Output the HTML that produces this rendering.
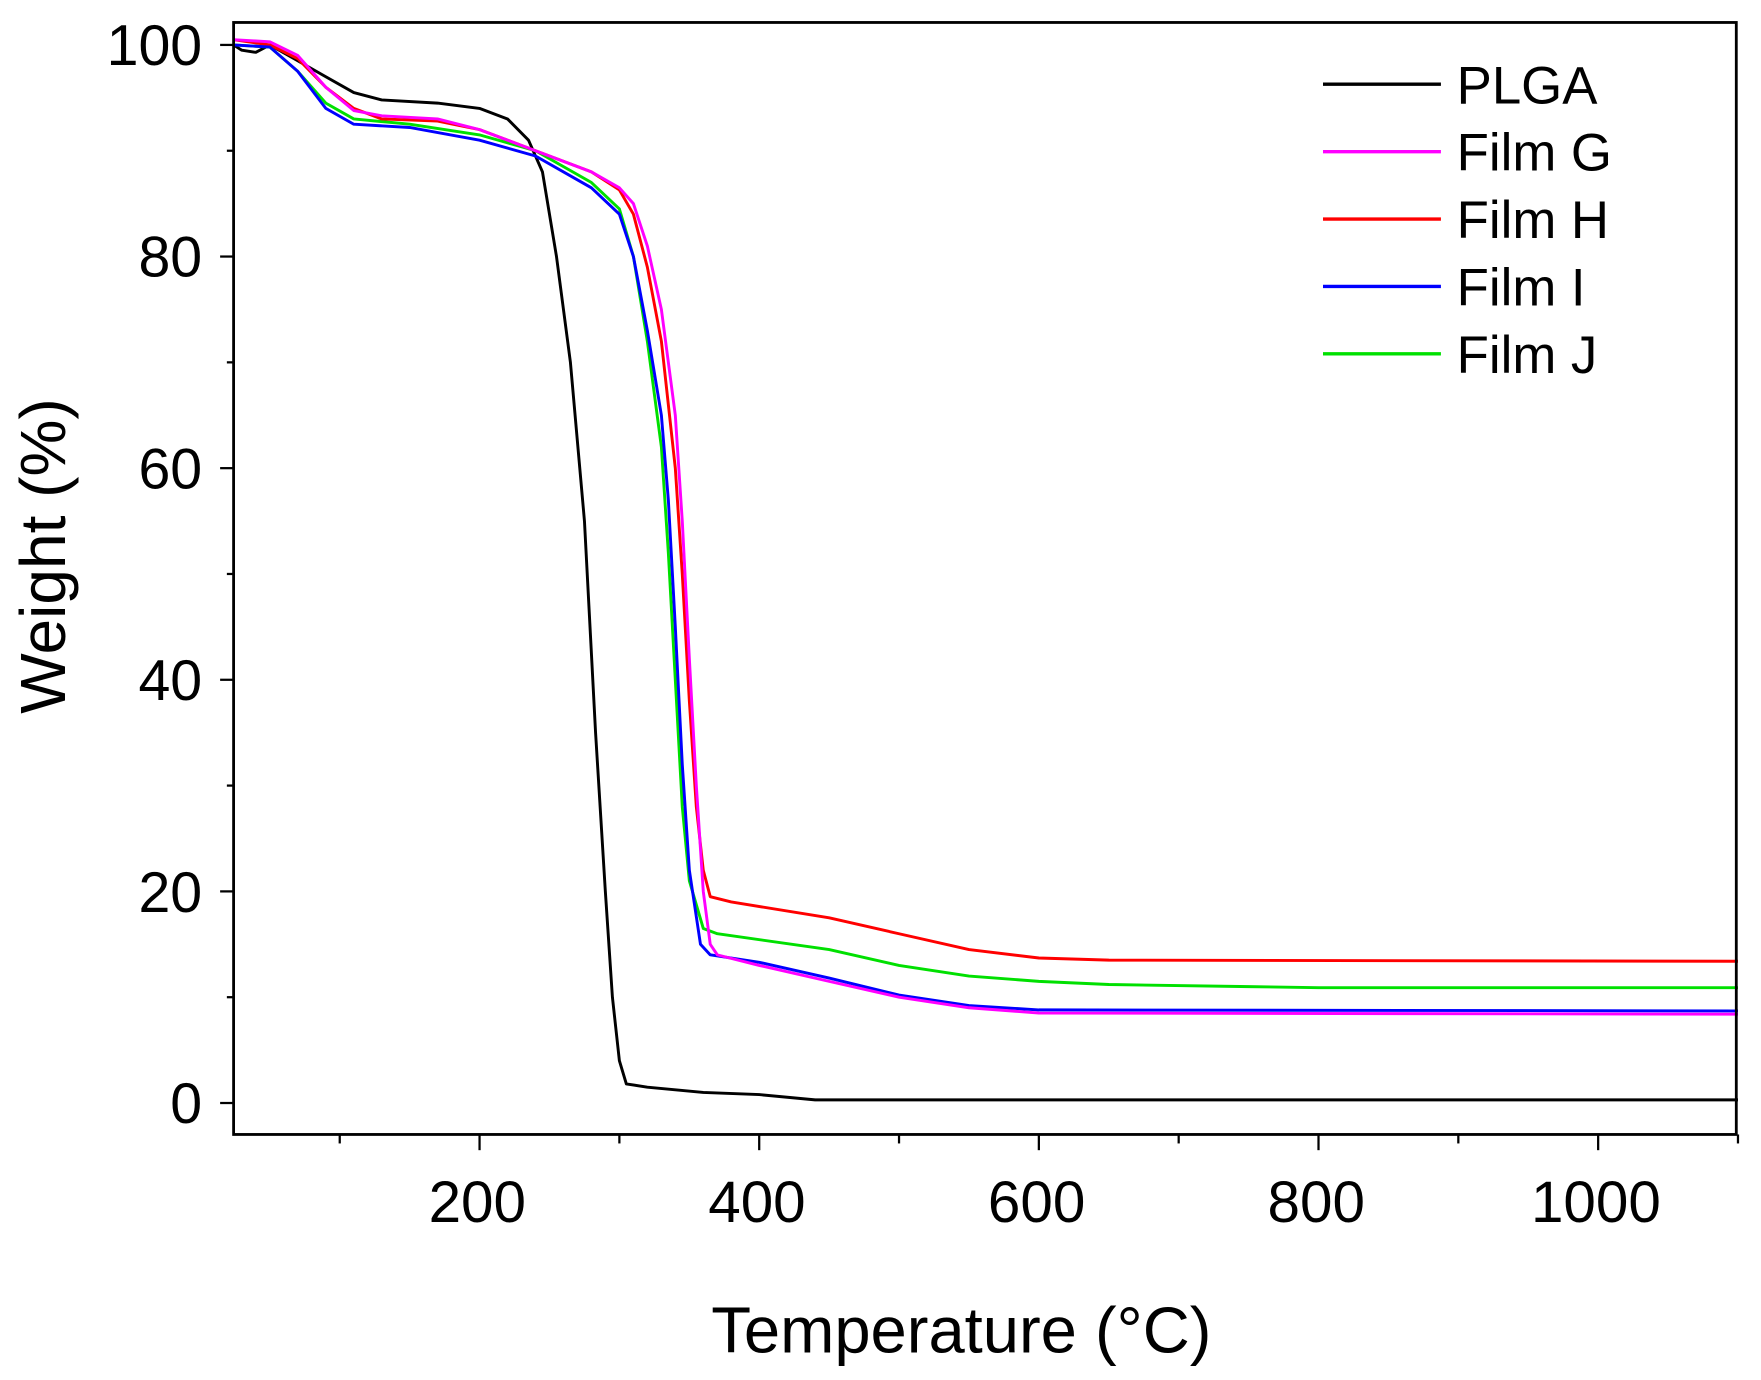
<!DOCTYPE html>
<html><head><meta charset="utf-8"><style>
html,body{margin:0;padding:0;background:#fff;}
svg{display:block;}
text{font-family:"Liberation Sans",Arial,sans-serif;fill:#000;}
</style></head><body>
<svg id="s" width="1761" height="1380" viewBox="0 0 1568 1228.6" preserveAspectRatio="none" xmlns="http://www.w3.org/2000/svg">
<rect x="0" y="0" width="1568" height="1229" fill="#fff"/>
<g id="curves" fill="none" stroke-width="2.6" stroke-linejoin="round"></g>
<rect x="208" y="20" width="1338" height="990" fill="none" stroke="#000" stroke-width="2.5"/>
<g id="ticks" stroke="#000" stroke-width="2"></g>
<g font-size="51" text-anchor="end">
<text x="180" y="1000">0</text>
<text x="180" y="812">20</text>
<text x="180" y="623">40</text>
<text x="180" y="435">60</text>
<text x="180" y="246">80</text>
<text x="180" y="58">100</text>
</g>
<g font-size="52" text-anchor="middle">
<text x="425" y="1088">200</text>
<text x="674" y="1088">400</text>
<text x="923" y="1088">600</text>
<text x="1172" y="1088">800</text>
<text x="1421" y="1088">1000</text>
</g>
<text x="856" y="1204" font-size="58" text-anchor="middle">Temperature (°C)</text>
<text transform="translate(58,495) rotate(-90)" font-size="57" text-anchor="middle">Weight (%)</text>
<g stroke-width="3">
<line x1="1178" y1="75" x2="1283" y2="75" stroke="#000"/>
<line x1="1178" y1="135" x2="1283" y2="135" stroke="#ff00ff"/>
<line x1="1178" y1="195" x2="1283" y2="195" stroke="#ff0000"/>
<line x1="1178" y1="255" x2="1283" y2="255" stroke="#0000ff"/>
<line x1="1178" y1="315" x2="1283" y2="315" stroke="#00e000"/>
</g>
<g font-size="47">
<text x="1297" y="92">PLGA</text>
<text x="1297" y="152">Film G</text>
<text x="1297" y="212">Film H</text>
<text x="1297" y="272">Film I</text>
<text x="1297" y="332">Film J</text>
</g>
</svg>
<script>
function X(t){return 178+1.245*t;}function Y(w){return 982-9.42*w;}
var S={
"#000":[[24,100],[30,99.5],[40,99.3],[50,100],[70,98.5],[90,97],[110,95.5],[130,94.8],[170,94.5],[200,94],[220,93],[235,91],[245,88],[255,80],[265,70],[275,55],[283,35],[290,20],[295,10],[300,4],[305,1.8],[320,1.5],[360,1],[400,0.8],[440,0.3],[1100,0.3]],
"#00e000":[[24,100],[50,99.8],[70,97.5],[90,94.5],[110,93],[150,92.5],[200,91.5],[240,90],[280,87],[300,84.5],[310,80],[320,72],[330,62],[335,52],[340,40],[345,28],[350,21],[360,16.5],[370,16],[450,14.5],[500,13],[550,12],[600,11.5],[650,11.2],[750,11],[800,10.9],[1100,10.9]],
"#ff0000":[[24,100.5],[50,100],[70,98.7],[90,96],[110,94],[130,93],[170,92.8],[200,92],[240,90],[280,88],[300,86.3],[310,84],[320,79],[330,72],[340,60],[345,50],[350,38],[355,28],[360,22],[365,19.5],[380,19],[450,17.5],[500,16],[550,14.5],[600,13.7],[650,13.5],[1100,13.4]],
"#0000ff":[[24,100],[50,99.8],[70,97.5],[90,94],[110,92.5],[150,92.2],[200,91],[240,89.5],[280,86.5],[300,84],[310,80],[320,73],[330,65],[335,57],[340,45],[345,32],[350,22],[358,15],[365,14],[400,13.3],[450,11.8],[500,10.2],[550,9.2],[600,8.8],[1100,8.7]],
"#ff00ff":[[24,100.5],[50,100.3],[70,99],[90,96],[110,93.8],[130,93.3],[170,93],[200,92],[240,90],[280,88],[300,86.5],[310,85],[320,81],[330,75],[340,65],[345,55],[350,42],[355,30],[360,20],[365,15],[370,14],[400,13],[450,11.5],[500,10],[550,9],[600,8.5],[1100,8.4]]};
var g=document.getElementById('curves'),ns='http://www.w3.org/2000/svg';
for(var c in S){var d=S[c].map(function(p,i){return (i?'L':'M')+X(p[0]).toFixed(1)+' '+Y(p[1]).toFixed(1);}).join('');
var p=document.createElementNS(ns,'path');p.setAttribute('d',d);p.setAttribute('stroke',c);g.appendChild(p);}
var t=document.getElementById('ticks'),h='';
for(var v=0;v<=100;v+=10){var y=Y(v),L=v%20?6:12;h+='<line x1="'+(208-L)+'" y1="'+y+'" x2="208" y2="'+y+'"/>';}
for(var v=100;v<=1100;v+=100){var x=X(v),L=v%200?8:14;h+='<line x1="'+x+'" y1="1010" x2="'+x+'" y2="'+(1010+L)+'"/>';}
t.innerHTML=h;
</script>
</body></html>
